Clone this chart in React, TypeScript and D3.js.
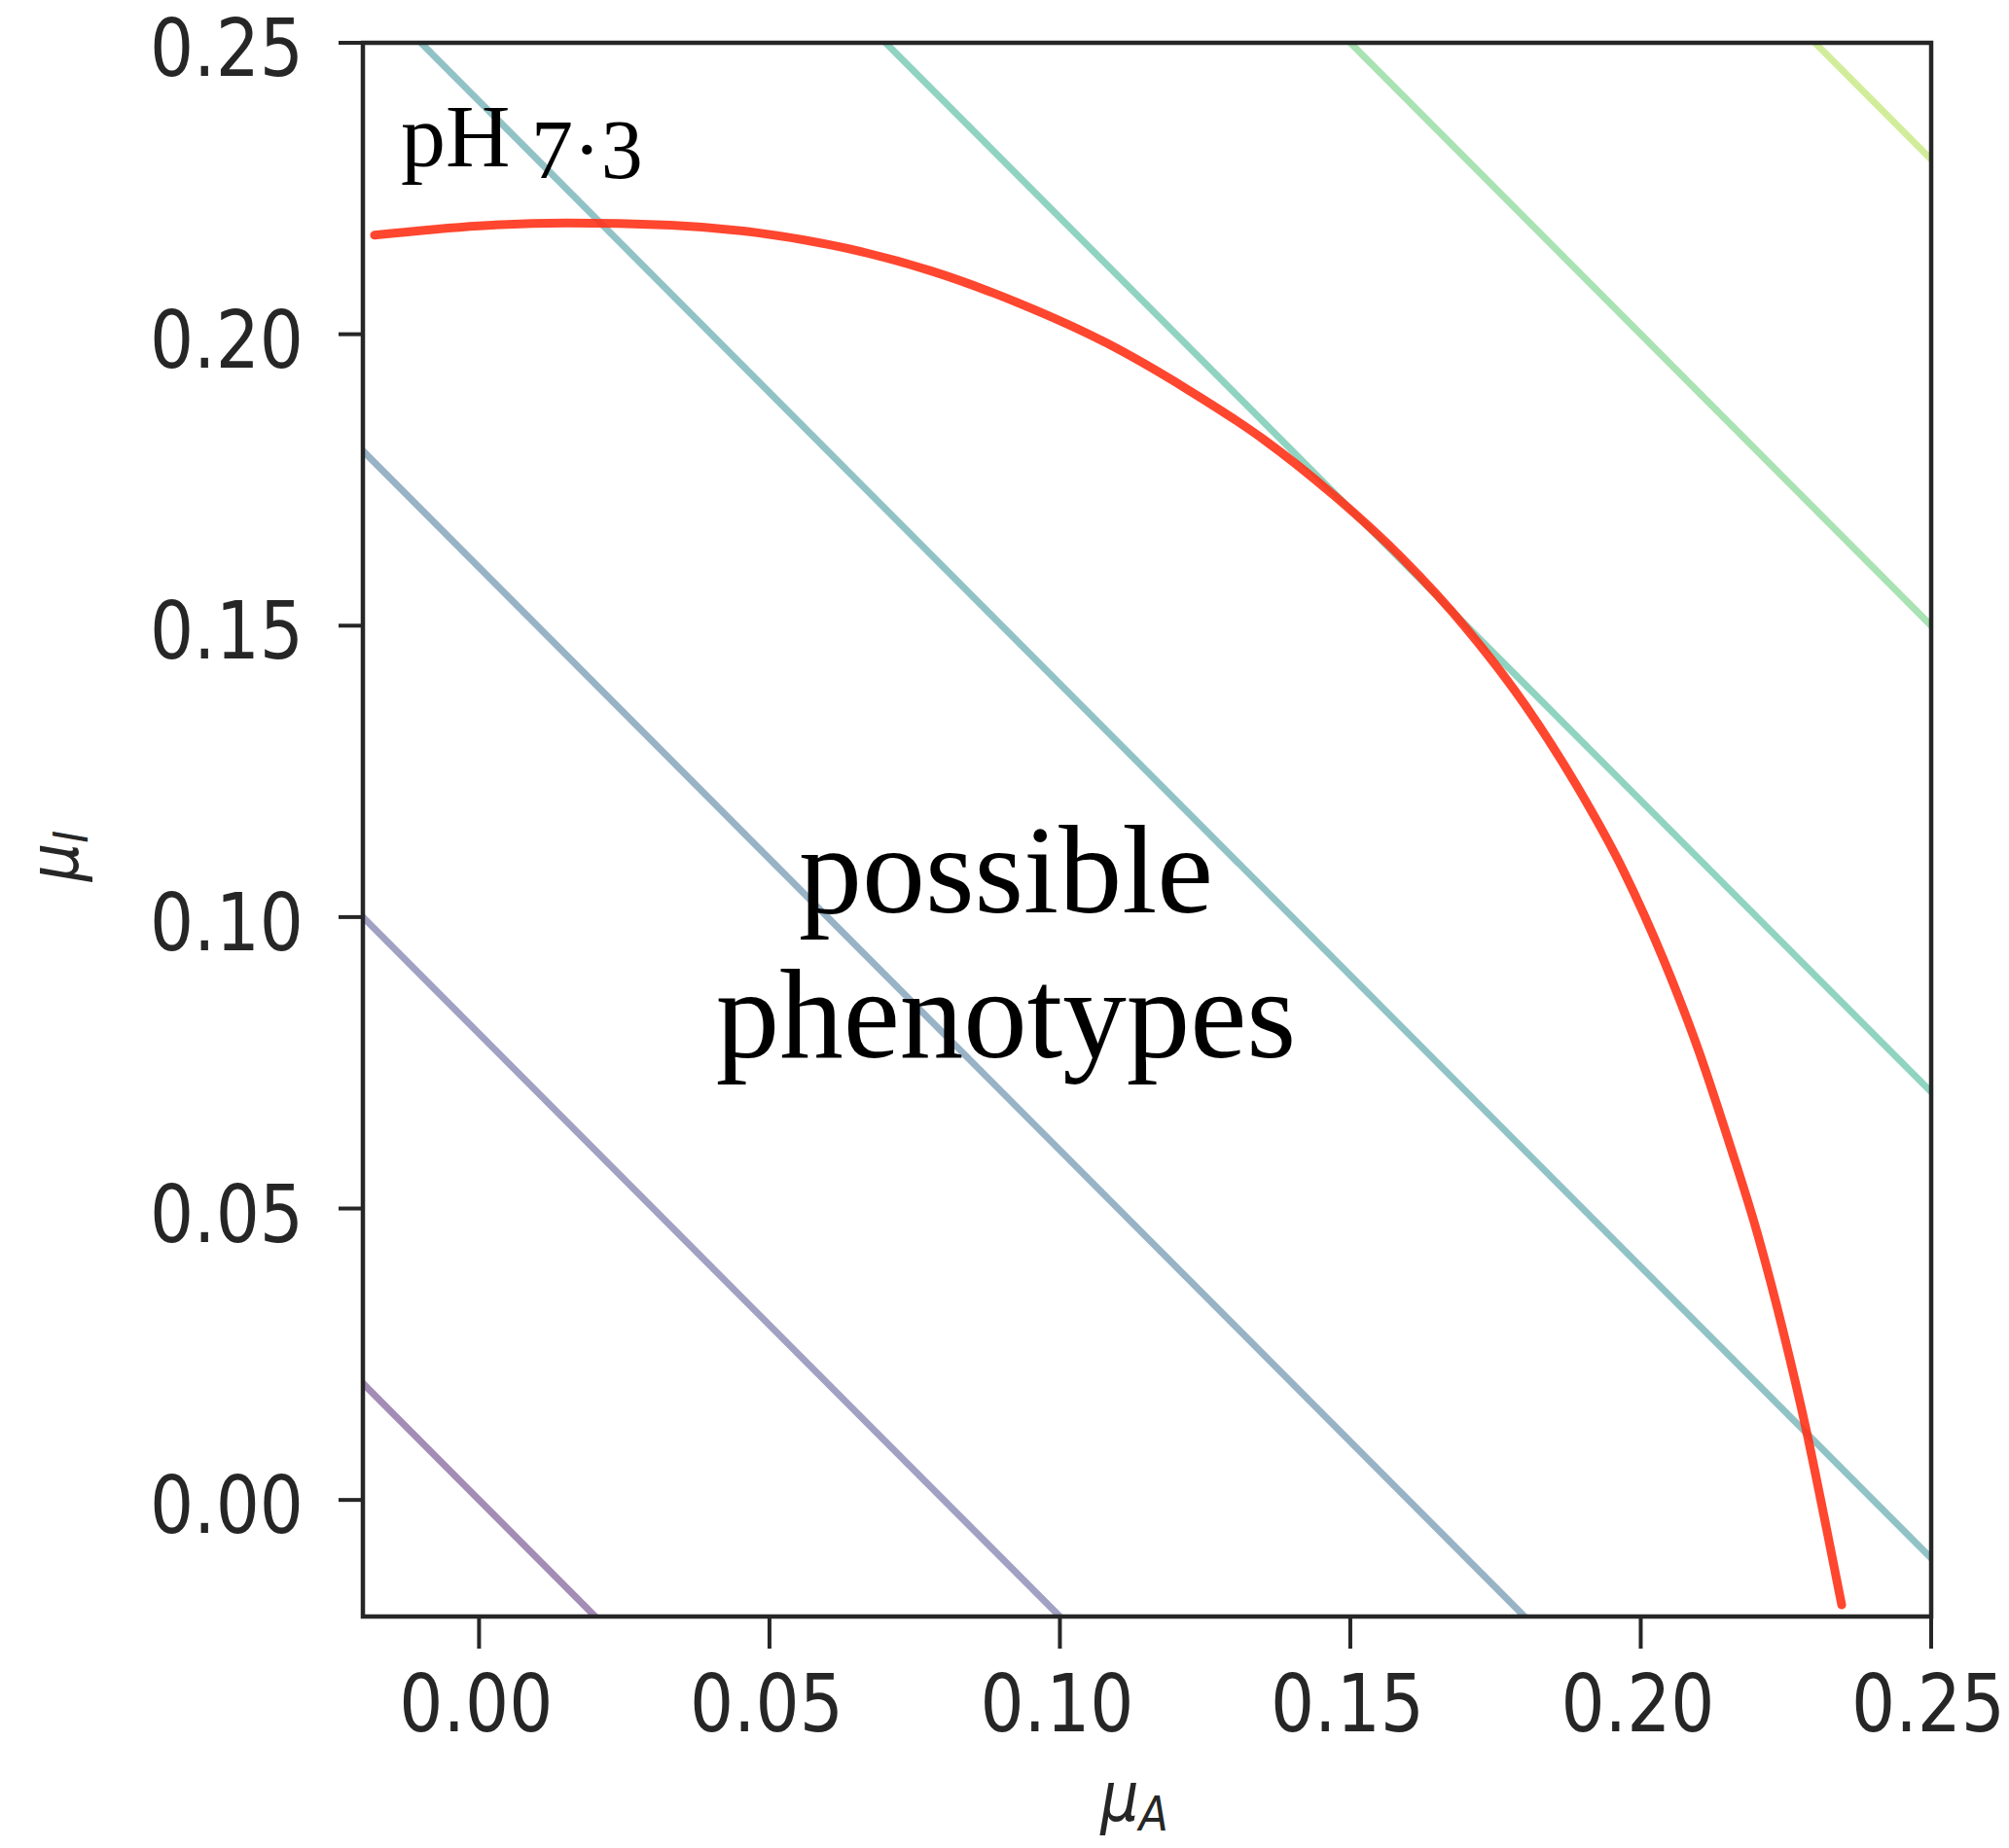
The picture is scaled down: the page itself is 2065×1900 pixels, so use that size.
import React from "react";
import * as d3 from "d3";

// ---- data ----
const xDomain = [-0.02, 0.25];
const yDomain = [-0.02, 0.25];
const xTicks = [0.0, 0.05, 0.1, 0.15, 0.2, 0.25];
const yTicks = [0.0, 0.05, 0.1, 0.15, 0.2, 0.25];
const tickLabels = ["0.00", "0.05", "0.10", "0.15", "0.20", "0.25"];
// iso-lines of muA + muI = level
const contourLevels = [0.0, 0.08, 0.16, 0.24, 0.32, 0.4, 0.48];
// boundary of possible phenotypes: muA values and matching muI values
const boundaryA = [-0.018, 0.0, 0.015, 0.033, 0.048, 0.063, 0.078, 0.093, 0.108, 0.122, 0.135, 0.147, 0.159, 0.17, 0.18, 0.189, 0.197, 0.204, 0.21, 0.215, 0.22, 0.2245, 0.2286, 0.232, 0.2346];
const boundaryI = [0.217, 0.2186, 0.2191, 0.2187, 0.2174, 0.2148, 0.2108, 0.2053, 0.1985, 0.1905, 0.182, 0.1725, 0.1615, 0.1495, 0.1365, 0.1225, 0.108, 0.0925, 0.077, 0.062, 0.046, 0.029, 0.0115, -0.005, -0.018];

const W = 2065;
const H = 1900;
const L = 373;
const R = 1985;
const T = 44;
const B = 1662;
const TEXT_SY = 1.15;

export default function App() {
  const x = d3.scaleLinear().domain(xDomain).range([L, R]);
  const y = d3.scaleLinear().domain(yDomain).range([B, T]);

  const contourPath = (c: number) => {
    const pts: [number, number][] = [
      [xDomain[0] - 0.05, c - (xDomain[0] - 0.05)],
      [xDomain[1] + 0.05, c - (xDomain[1] + 0.05)],
    ];
    return d3
      .line<[number, number]>()
      .x((d) => x(d[0]))
      .y((d) => y(d[1]))(pts) as string;
  };
  const color = (c: number) => d3.interpolateViridis((c + 0.04) / 0.6);

  const boundary: [number, number][] = boundaryA.map((a, i) => [a, boundaryI[i]]);
  const redPath = d3
    .line<[number, number]>()
    .x((d) => x(d[0]))
    .y((d) => y(d[1]))
    .curve(d3.curveMonotoneX)(boundary) as string;

  const tickFont = 71;
  const dark = "#262626";

  return (
    <svg
      width={W}
      height={H}
      viewBox={`0 0 ${W} ${H}`}
      style={{ position: "absolute", left: 0, top: 0, background: "#fff" }}
    >
      <defs>
        <clipPath id="plotClip">
          <rect x={L} y={T} width={R - L} height={B - T} />
        </clipPath>
      </defs>
      <rect x={0} y={0} width={W} height={H} fill="#fff" />
      <g clipPath="url(#plotClip)">
        {contourLevels.map((c) => (
          <path
            key={c}
            d={contourPath(c)}
            stroke={color(c)}
            strokeOpacity={0.5}
            strokeWidth={7}
            fill="none"
          />
        ))}
        <path d={redPath} stroke="#ff3218" strokeOpacity={0.9} strokeWidth={9} fill="none" strokeLinecap="round" />
      </g>
      {/* frame */}
      <rect x={L} y={T} width={R - L} height={B - T} fill="none" stroke={dark} strokeWidth={4.5} />
      {/* x ticks */}
      {xTicks.map((t, i) => (
        <g key={"x" + i}>
          <line x1={x(t)} x2={x(t)} y1={B} y2={B + 33} stroke={dark} strokeWidth={4} />
          <g transform={`translate(${x(t) - 3},${1780}) scale(1,${TEXT_SY})`}>
            <text
              textAnchor="middle"
              fontFamily="DejaVu Sans"
              fontSize={tickFont}
              fill={dark}
            >
              {tickLabels[i]}
            </text>
          </g>
        </g>
      ))}
      {/* y ticks */}
      {yTicks.map((t, i) => (
        <g key={"y" + i}>
          <line x1={L - 25} x2={L} y1={y(t)} y2={y(t)} stroke={dark} strokeWidth={4} />
          <g transform={`translate(${312},${y(t) + 34}) scale(1,${TEXT_SY})`}>
            <text
              textAnchor="end"
              fontFamily="DejaVu Sans"
              fontSize={tickFont}
              fill={dark}
            >
              {tickLabels[i]}
            </text>
          </g>
        </g>
      ))}
      {/* axis labels */}
      <g transform={`translate(${1166},${1872}) scale(1,${TEXT_SY})`}>
        <text textAnchor="middle" fontFamily="DejaVu Sans" fontStyle="italic" fontSize={62} fill={dark}>
          μ<tspan fontSize={44} dy={9}>A</tspan>
        </text>
      </g>
      <g transform={`translate(${80},${880}) scale(${TEXT_SY},1) rotate(-90)`}>
        <text textAnchor="middle" fontFamily="DejaVu Sans" fontStyle="italic" fontSize={62} fill={dark}>
          μ<tspan fontSize={44} dy={9}>I</tspan>
        </text>
      </g>
      {/* annotations */}
      <text x={412} y={171} fontFamily="Liberation Serif" fontSize={92} fill="#000">
        pH
      </text>
      <text x={546} y={183} fontFamily="Liberation Serif" fontSize={86} fill="#000">
        7·3
      </text>
      <text x={1034} y={938} textAnchor="middle" fontFamily="Liberation Serif" fontSize={130} fill="#000">
        possible
      </text>
      <text x={1034} y={1087} textAnchor="middle" fontFamily="Liberation Serif" fontSize={131} fill="#000">
        phenotypes
      </text>
    </svg>
  );
}
